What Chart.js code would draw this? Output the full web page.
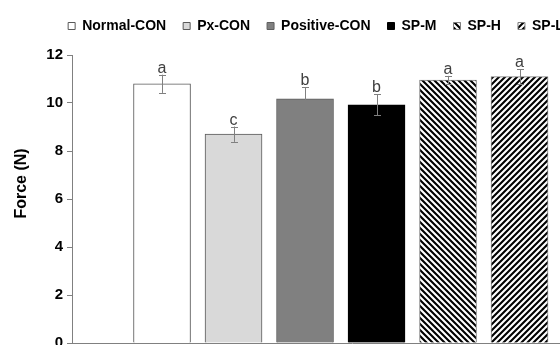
<!DOCTYPE html>
<html>
<head>
<meta charset="utf-8">
<script src="https://cdn.jsdelivr.net/npm/chart.js@4/dist/chart.umd.min.js"></script>
<style>
  html, body { margin: 0; padding: 0; background: #fff; overflow: hidden; }
  #wrap { width: 560px; height: 345px; overflow: hidden; }
  #forceChart { max-width: none; }
</style>
</head>
<body>
<div id="wrap"><canvas id="forceChart" width="632" height="345"></canvas></div>
<script>
// --- data ---
const categories = ['Normal-CON', 'Px-CON', 'Positive-CON', 'SP-M', 'SP-H', 'SP-L'];
const forceMeans = [10.8, 8.7, 10.17, 9.92, 10.96, 11.1];
const forceErrors = [0.38, 0.32, 0.49, 0.44, 0.17, 0.31];
const sigLetters = ['a', 'c', 'b', 'b', 'a', 'a'];
const yTickRange = [0, 12, 2]; // min, max, step

// diagonal hatch fill, dir 1 = "\" , -1 = "/"
function makeHatch(dir) {
  const s = 6;
  const c = document.createElement('canvas');
  c.width = s; c.height = s;
  const g = c.getContext('2d');
  g.fillStyle = '#fff';
  g.fillRect(0, 0, s, s);
  g.strokeStyle = '#000';
  g.lineWidth = 2.1;
  g.beginPath();
  if (dir > 0) {
    g.moveTo(-1, -1); g.lineTo(s + 1, s + 1);
    g.moveTo(-1, s - 1); g.lineTo(1, s + 1);
    g.moveTo(s - 1, -1); g.lineTo(s + 1, 1);
  } else {
    g.moveTo(-1, s + 1); g.lineTo(s + 1, -1);
    g.moveTo(-1, 1); g.lineTo(1, -1);
    g.moveTo(s - 1, s + 1); g.lineTo(s + 1, s - 1);
  }
  g.stroke();
  return g.createPattern(c, 'repeat');
}

const fills = ['#ffffff', '#d9d9d9', '#808080', '#000000', makeHatch(1), makeHatch(-1)];
const borders = ['#595959', '#595959', '#5f5f5f', '#000000', '#808080', '#808080'];

// error bars + significance letters
const errorBarPlugin = {
  id: 'errorBars',
  afterDatasetsDraw(chart) {
    const ctx = chart.ctx;
    const y = chart.scales.y;
    ctx.save();
    chart.data.datasets.forEach((ds, i) => {
      const bar = chart.getDatasetMeta(i).data[0];
      if (!bar) return;
      const hi = y.getPixelForValue(forceMeans[i] + forceErrors[i]);
      const lo = y.getPixelForValue(forceMeans[i] - forceErrors[i]);
      const x = Math.round(bar.x) + 0.5;
      ctx.strokeStyle = '#808080';
      ctx.lineWidth = 1;
      ctx.beginPath();
      ctx.moveTo(x, hi); ctx.lineTo(x, lo);
      ctx.moveTo(x - 3.5, Math.round(hi) + 0.5); ctx.lineTo(x + 3.5, Math.round(hi) + 0.5);
      ctx.moveTo(x - 3.5, Math.round(lo) + 0.5); ctx.lineTo(x + 3.5, Math.round(lo) + 0.5);
      ctx.stroke();
      ctx.fillStyle = '#404040';
      ctx.font = '16px "Liberation Sans", Arial, sans-serif';
      ctx.textAlign = 'center';
      ctx.textBaseline = 'alphabetic';
      ctx.fillText(sigLetters[i], bar.x, hi - 2);
    });
    ctx.restore();
  }
};

// extra room under the legend
const legendGap = {
  id: 'legendGap',
  beforeInit(chart) {
    const fit = chart.legend.fit;
    chart.legend.fit = function () {
      fit.call(this);
      this.height += 12;
    };
  }
};

const datasets = categories.map((name, i) => ({
  label: name,
  data: [{ x: i, y: forceMeans[i] }],
  backgroundColor: fills[i],
  borderColor: borders[i],
  borderWidth: 1,
  barThickness: 57,
  grouped: false
}));

new Chart(document.getElementById('forceChart'), {
  type: 'bar',
  data: { datasets },
  plugins: [legendGap, errorBarPlugin],
  options: {
    responsive: false,
    animation: false,
    layout: { padding: { left: 0, right: 0, top: 2, bottom: 2 } },
    plugins: {
      tooltip: { enabled: false },
      legend: {
        position: 'top',
        labels: {
          color: '#000',
          boxWidth: 7,
          boxHeight: 7,
          padding: 17,
          font: { family: '"Liberation Sans", Arial, sans-serif', size: 14, weight: 'bold' }
        }
      }
    },
    scales: {
      x: {
        type: 'linear',
        offset: false,
        min: -1.259,
        max: 6.573,
        afterFit(scale) { scale.height = 0; },
        ticks: { display: false },
        grid: { display: false, drawTicks: false },
        border: { color: '#808080', width: 1 }
      },
      y: {
        min: yTickRange[0],
        max: yTickRange[1],
        afterFit(scale) {
          scale.width = 72;
          // let the "0" label run off the bottom edge, as in the original crop
          scale.paddingTop = 0;
          scale.paddingBottom = 0;
        },
        ticks: {
          stepSize: yTickRange[2],
          color: '#000',
          padding: 4,
          font: { family: '"Liberation Sans", Arial, sans-serif', size: 15, weight: 'bold' }
        },
        grid: { drawOnChartArea: false, drawTicks: true, tickLength: 5, color: '#808080' },
        border: { color: '#808080', width: 1 },
        title: {
          display: true,
          text: '       Force (N)',
          color: '#000',
          padding: { top: 12, bottom: 0 },
          font: { family: '"Liberation Sans", Arial, sans-serif', size: 16, weight: 'bold' }
        }
      }
    }
  }
});
</script>
</body>
</html>
